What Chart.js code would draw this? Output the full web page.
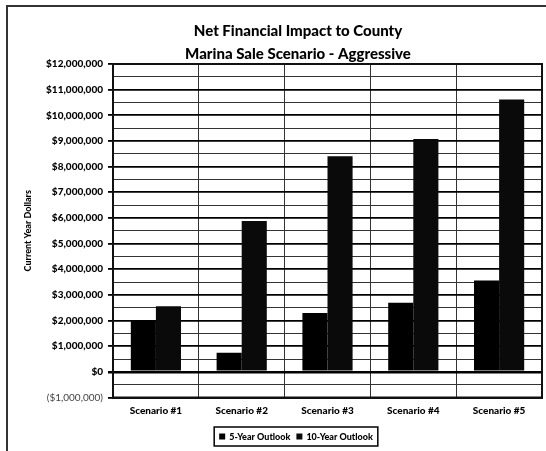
<!DOCTYPE html>
<html lang="en">
<head>
    <meta charset="UTF-8">
    <title>Net Financial Impact to County</title>
    <script src="https://cdn.jsdelivr.net/npm/chart.js@4"></script>
    <style>
        body {
            margin: 0;
            background: #fff;
        }
        #wrap {
            width: 546px;
            height: 451px;
        }
    </style>
</head>
<body>
    <div id="wrap"><canvas id="impactChart" width="546" height="451"></canvas></div>

    <script>
        // data
        const scenarios = ['Scenario #1', 'Scenario #2', 'Scenario #3', 'Scenario #4', 'Scenario #5'];
        const fiveYear = [2000000, 740000, 2290000, 2690000, 3560000];
        const tenYear = [2560000, 5880000, 8400000, 9080000, 10620000];
        const seriesNames = ['5-Year Outlook', '10-Year Outlook'];
        const titleLines = ['Net Financial Impact to County', 'Marina Sale Scenario - Aggressive'];
        const yTitle = 'Current Year Dollars';

        const FONT = 'Lato, "DejaVu Sans", sans-serif';

        const money = (v) => {
            const s = '$' + Math.abs(v).toLocaleString('en-US');
            return v < 0 ? '(' + s + ')' : s;
        };
        const isMajor = (v) => Math.abs(v % 1000000) < 1;

        // page frame, plot border, title and boxed legend
        const decorations = {
            id: 'decorations',
            beforeDraw(chart) {
                const c = chart.ctx;
                c.save();
                c.fillStyle = '#fff';
                c.fillRect(0, 0, chart.width, chart.height);
                c.strokeStyle = '#333';
                c.lineWidth = 2;
                c.beginPath();
                c.moveTo(7, 451);
                c.lineTo(7, 6);
                c.lineTo(546, 6);
                c.stroke();
                c.restore();
            },
            afterDraw(chart) {
                const c = chart.ctx;
                const a = chart.chartArea;
                c.save();
                c.strokeStyle = '#111';
                c.lineWidth = 2;
                c.strokeRect(a.left, a.top, a.right - a.left, a.bottom - a.top);

                // title
                c.fillStyle = '#000';
                c.textAlign = 'center';
                c.textBaseline = 'middle';
                c.font = '900 15px ' + FONT;
                c.fillText(titleLines[0], 298, 31);
                c.fillText(titleLines[1], 298, 54);

                // legend
                c.font = '900 9px ' + FONT;
                const sw = 6, gap = 4, between = 6, padX = 5;
                const labels = chart.data.datasets.map(d => d.label);
                let w = padX * 2;
                labels.forEach((l, i) => {
                    w += sw + gap + c.measureText(l).width + (i ? between : 0);
                });
                const cx = 296, top = 427, h = 19;
                let x = cx - w / 2;
                c.lineWidth = 1.5;
                c.strokeStyle = '#000';
                c.strokeRect(x, top, w, h);
                x += padX;
                c.textAlign = 'left';
                labels.forEach((l, i) => {
                    if (i) x += between;
                    c.fillStyle = chart.data.datasets[i].backgroundColor;
                    c.fillRect(x, top + h / 2 - sw / 2, sw, sw);
                    x += sw + gap;
                    c.fillStyle = '#000';
                    c.fillText(l, x, top + h / 2 + 0.5);
                    x += c.measureText(l).width;
                });
                c.restore();
            }
        };

        const ctx = document.getElementById('impactChart').getContext('2d');
        const impactChart = new Chart(ctx, {
            type: 'bar',
            data: {
                labels: scenarios,
                datasets: [
                    { label: seriesNames[0], data: fiveYear, backgroundColor: '#000' },
                    { label: seriesNames[1], data: tenYear, backgroundColor: '#0a0a0a' }
                ]
            },
            options: {
                responsive: false,
                animation: false,
                devicePixelRatio: 1,
                categoryPercentage: 0.585,
                barPercentage: 1.0,
                layout: { padding: { left: 23, right: 4, top: 64, bottom: 0 } },
                plugins: {
                    legend: { display: false },
                    title: { display: false },
                    tooltip: { enabled: false }
                },
                scales: {
                    x: {
                        afterFit(scale) { scale.height = 53.5; },
                        grid: {
                            offset: true,
                            drawTicks: false,
                            color: '#333',
                            lineWidth: 1
                        },
                        border: { display: true, color: '#111', width: 2, dash: [] },
                        ticks: {
                            padding: 7,
                            color: '#000',
                            font: { family: FONT, weight: '900', size: 10 }
                        }
                    },
                    y: {
                        min: -1000000,
                        max: 12000000,
                        afterFit(scale) { scale.width = 90; },
                        title: {
                            display: true,
                            text: yTitle,
                            color: '#000',
                            padding: { top: 0, bottom: 0 },
                            font: { family: FONT, weight: '900', size: 9 }
                        },
                        border: { color: '#111', width: 2 },
                        grid: {
                            tickLength: 5,
                            color: (c) => {
                                if (!c.tick) return '#000';
                                return isMajor(c.tick.value) ? '#000' : '#333';
                            },
                            lineWidth: (c) => {
                                if (!c.tick) return 1.5;
                                if (c.tick.value === 0) return 2.5;
                                return isMajor(c.tick.value) ? 1.8 : 1;
                            },
                            tickColor: (c) => (c.tick && isMajor(c.tick.value)) ? '#000' : 'rgba(0,0,0,0)'
                        },
                        ticks: {
                            stepSize: 500000,
                            autoSkip: false,
                            padding: 5,
                            color: (c) => (c.tick && c.tick.value < 0) ? '#444' : '#000',
                            font: (c) => ({
                                family: FONT,
                                size: 10,
                                weight: (c.tick && c.tick.value < 0) ? 'normal' : '900'
                            }),
                            callback: (v) => isMajor(v) ? money(v) : ''
                        }
                    }
                }
            },
            plugins: [decorations]
        });
    </script>
</body>
</html>
